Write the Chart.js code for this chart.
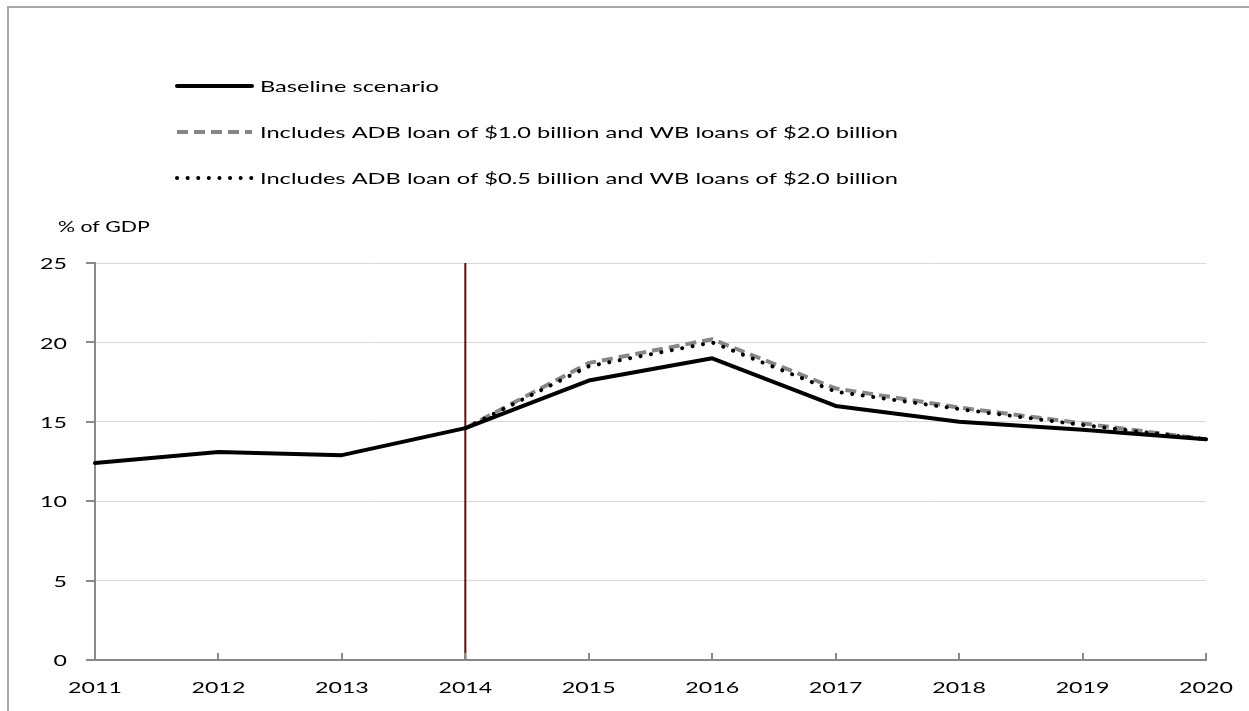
<!DOCTYPE html>
<html>
<head>
<meta charset="utf-8">
<script src="https://cdn.jsdelivr.net/npm/chart.js@4"></script>
<style>
  html, body { margin: 0; padding: 0; background: #ffffff; }
  #wrap { width: 1249px; height: 711px; }
</style>
</head>
<body>
<div id="wrap"><canvas id="c" width="1249" height="711"></canvas></div>
<script>
// ---- data ----
const years = ['2011','2012','2013','2014','2015','2016','2017','2018','2019','2020'];
const baseline = [12.4, 13.1, 12.9, 14.6, 17.6, 19.0, 16.0, 15.0, 14.5, 13.9];
const adb10 = [null, null, null, 14.6, 18.7, 20.2, 17.1, 15.9, 14.9, 13.9];
const adb05 = [null, null, null, 14.6, 18.5, 20.0, 16.9, 15.8, 14.8, 13.9];
const yTicks = [0, 5, 10, 15, 20, 25];
const seriesNames = [
  'Baseline scenario',
  'Includes ADB loan of $1.0 billion and WB loans of $2.0 billion',
  'Includes ADB loan of $0.5 billion and WB loans of $2.0 billion'
];
const markerYear = '2014';
const yTitle = '% of GDP';

// ---- styles ----
const FONT = 'Lato, "Open Sans", "DejaVu Sans", sans-serif';
const styles = [
  { color: '#000000', width: 4, dash: [] , cap: 'round'},
  { color: '#878787', width: 4, dash: [11, 6], cap: 'butt' },
  { color: '#000000', width: 4, dash: [0.1, 10.5], cap: 'round' }
];

function stretchedText(ctx, text, x, y, size, sx, align) {
  ctx.save();
  ctx.font = size + 'px ' + FONT;
  ctx.fillStyle = '#000';
  ctx.textBaseline = 'middle';
  ctx.textAlign = align;
  ctx.translate(x, y);
  ctx.scale(sx, 1);
  ctx.fillText(text, 0, 0);
  ctx.restore();
}

const decor = {
  id: 'decor',
  beforeDatasetsDraw(chart) {
    const ctx = chart.ctx, xs = chart.scales.x, a = chart.chartArea;
    const xm = xs.getPixelForValue(years.indexOf(markerYear));
    ctx.save();
    ctx.strokeStyle = '#5a0f0f';
    ctx.lineWidth = 2;
    ctx.beginPath();
    ctx.moveTo(xm, a.top);
    ctx.lineTo(xm, a.bottom);
    ctx.stroke();
    ctx.restore();
  },
  afterDraw(chart) {
    const ctx = chart.ctx, xs = chart.scales.x, ys = chart.scales.y, a = chart.chartArea;
    ctx.save();
    // outer frame (left and top)
    ctx.strokeStyle = '#a6a6a6';
    ctx.lineWidth = 2;
    ctx.beginPath();
    ctx.moveTo(8, 711);
    ctx.lineTo(8, 7);
    ctx.lineTo(1249, 7);
    ctx.stroke();
    // tick marks
    ctx.strokeStyle = '#898989';
    ctx.lineWidth = 2;
    ctx.beginPath();
    yTicks.forEach(v => {
      const y = Math.round(ys.getPixelForValue(v));
      ctx.moveTo(a.left - 9, y);
      ctx.lineTo(a.left, y);
    });
    years.forEach((_, i) => {
      const x = Math.round(xs.getPixelForValue(i));
      ctx.moveTo(x, a.bottom);
      ctx.lineTo(x, a.bottom - 7);
    });
    ctx.stroke();
    ctx.restore();
    // tick labels
    yTicks.forEach(v => {
      stretchedText(ctx, String(v), a.left - 28, ys.getPixelForValue(v) + 1, 16, 1.45, 'right');
    });
    years.forEach((t, i) => {
      stretchedText(ctx, t, xs.getPixelForValue(i), a.bottom + 28, 16, 1.45, 'center');
    });
    // axis title
    stretchedText(ctx, yTitle, 58, 227, 15, 1.42, 'left');
    // legend
    const rows = [86, 132, 178];
    seriesNames.forEach((name, i) => {
      const s = styles[i];
      ctx.save();
      ctx.strokeStyle = s.color;
      ctx.lineWidth = s.width;
      ctx.setLineDash(s.dash);
      ctx.lineCap = s.cap;
      ctx.beginPath();
      ctx.moveTo(177, rows[i]);
      ctx.lineTo(252, rows[i]);
      ctx.stroke();
      ctx.restore();
      stretchedText(ctx, name, 260, rows[i] + 1, 15, 1.575, 'left');
    });
  }
};

function ds(label, data, s) {
  return {
    label, data,
    borderColor: s.color, borderWidth: s.width, borderDash: s.dash,
    borderCapStyle: s.cap, borderJoinStyle: 'round',
    pointRadius: 0, pointHoverRadius: 0, fill: false, tension: 0, spanGaps: false
  };
}

new Chart(document.getElementById('c'), {
  type: 'line',
  data: {
    labels: years,
    datasets: [
      ds(seriesNames[0], baseline, styles[0]),
      ds(seriesNames[2], adb05, styles[2]),
      ds(seriesNames[1], adb10, styles[1])
    ]
  },
  options: {
    responsive: false,
    animation: false,
    events: [],
    layout: { padding: { left: 95, right: 43, top: 263, bottom: 51 } },
    plugins: { legend: { display: false }, tooltip: { enabled: false }, title: { display: false } },
    scales: {
      x: {
        type: 'category',
        offset: false,
        grid: { display: false, drawTicks: false },
        border: { display: true, color: '#898989', width: 2 },
        ticks: { display: false }
      },
      y: {
        min: 0, max: 25,
        afterBuildTicks: (s) => { s.ticks = yTicks.map(v => ({ value: v })); },
        grid: { color: '#d9d9d9', lineWidth: 1, drawTicks: false },
        border: { display: true, color: '#898989', width: 2 },
        ticks: { display: false }
      }
    }
  },
  plugins: [decor]
});
</script>
</body>
</html>
